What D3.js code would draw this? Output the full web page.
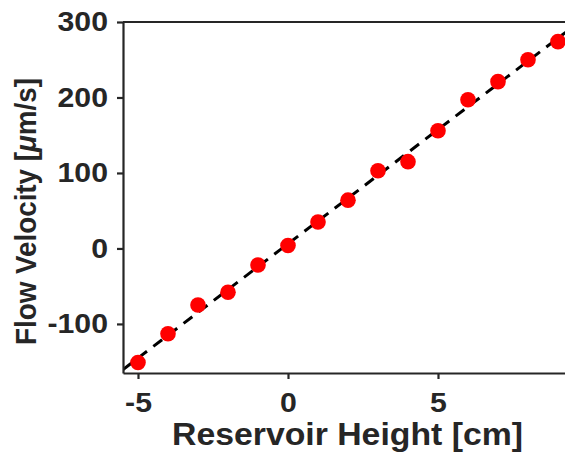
<!DOCTYPE html>
<html><head><meta charset="utf-8">
<script src="https://cdn.jsdelivr.net/npm/d3@7"></script>
<style>body{margin:0;background:#fff;} svg{display:block;}</style>
</head><body>
<script>
const heights = [-5,-4,-3,-2,-1,0,1,2,3,4,5,6,7,8,9];
const velocities = [-151,-113,-75,-58,-22,4,35,64,103,115,156,197,221,250,274];
const xTicks = [-5,0,5];
const yTicks = [-100,0,100,200,300];
const xLabel = "Reservoir Height [cm]";
const yLabelParts = ["Flow Velocity [", "\u03bc", "m/s]"];

(function(){
const W=565,H=453;
const mL=123, mT=22, mR=573, mB=373;
const svg=d3.select("body").append("svg").attr("width",W).attr("height",H);
const x=d3.scaleLinear().domain([-5.5,9.5]).range([mL,mR]);
const y=d3.scaleLinear().domain([-165,300]).range([mB,mT]);
const font="'Liberation Sans', Arial, Helvetica, sans-serif";
const axCol="#262626";
const stretch=1.1;

const mx=d3.mean(heights), my=d3.mean(velocities);
let sxy=0,sxx=0;
heights.forEach((h,i)=>{sxy+=(h-mx)*(velocities[i]-my);sxx+=(h-mx)*(h-mx);});
const slope=sxy/sxx, icpt=my-slope*mx;

svg.append("defs").append("clipPath").attr("id","c").append("rect")
  .attr("x",mL).attr("y",mT).attr("width",mR-mL).attr("height",mB-mT);

svg.append("path").attr("clip-path","url(#c)")
  .datum([-6,10])
  .attr("d",d3.line().x(d=>x(d)).y(d=>y(slope*d+icpt)))
  .attr("stroke","#000").attr("stroke-width",3).attr("stroke-dasharray","11,8").attr("fill","none");

svg.append("g").selectAll("circle").data(heights).join("circle")
  .attr("cx",d=>x(d)).attr("cy",(d,i)=>y(velocities[i])).attr("r",7.8)
  .attr("fill","#ff0000");

const fmt=d=>d<0?"-"+Math.abs(d):String(d);
const gx=svg.append("g").attr("transform",`translate(0,${mB})`)
  .call(d3.axisBottom(x).tickValues(xTicks).tickSize(6).tickSizeOuter(0).tickPadding(13).tickFormat(fmt));
const gy=svg.append("g").attr("transform",`translate(${mL},0)`)
  .call(d3.axisLeft(y).tickValues(yTicks).tickSize(6).tickSizeOuter(0).tickPadding(9).tickFormat(fmt));
[gx,gy].forEach(g=>{
  g.select(".domain").attr("stroke",axCol).attr("stroke-width",2.2);
  g.selectAll(".tick line").attr("stroke",axCol).attr("stroke-width",2.2);
  g.selectAll(".tick text").attr("fill",axCol).attr("font-family",font).attr("font-weight","bold").attr("font-size",27.5)
    .each(function(){const w=this.getComputedTextLength();d3.select(this).attr("textLength",w*stretch).attr("lengthAdjust","spacingAndGlyphs");});
});
svg.append("line").attr("x1",mL).attr("x2",mR).attr("y1",mT).attr("y2",mT)
  .attr("stroke",axCol).attr("stroke-width",2.2);

svg.append("text").attr("x",347.5).attr("y",445).attr("text-anchor","middle")
  .attr("font-family",font).attr("font-weight","bold").attr("font-size",32).attr("fill",axCol)
  .attr("textLength",351).attr("lengthAdjust","spacingAndGlyphs").text(xLabel);
const yl=svg.append("text").attr("transform","translate(36,211.5) rotate(-90)").attr("text-anchor","middle")
  .attr("font-family",font).attr("font-weight","bold").attr("font-size",29.5).attr("fill",axCol)
  .attr("textLength",267).attr("lengthAdjust","spacingAndGlyphs");
yl.selectAll("tspan").data(yLabelParts).join("tspan").text(d=>d)
  .attr("font-style",(d,i)=>i===1?"italic":null);
})();
</script>
</body></html>
